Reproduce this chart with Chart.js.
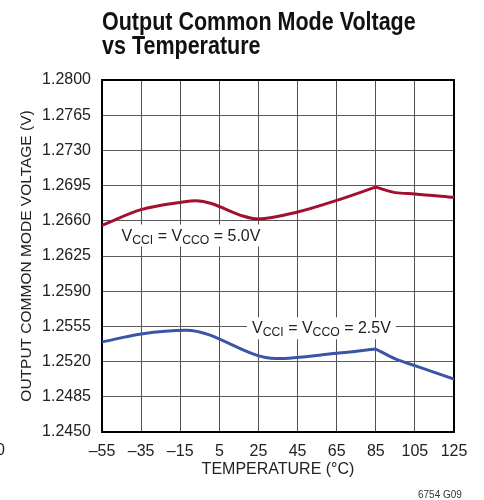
<!DOCTYPE html>
<html>
<head>
<meta charset="utf-8">
<script src="https://cdn.jsdelivr.net/npm/chart.js@4"></script>
<style>
  body { margin: 0; background: #fff; }
  canvas { display: block; }
</style>
</head>
<body>
<canvas id="myChart" width="484" height="500"></canvas>
<script>
const FONT = "'Liberation Sans', Arial, sans-serif";

// temperature ticks (°C) and voltage ticks (V)
const xTicks = [-55, -35, -15, 5, 25, 45, 65, 85, 105, 125];
const yTicks = [1.245, 1.2485, 1.252, 1.2555, 1.259, 1.2625, 1.266, 1.2695, 1.273, 1.2765, 1.28];

// VCCI = VCCO = 5.0V
const temps5 = [-55, -35, -15, -7, 25, 45, 65, 85, 95, 105, 125];
const volts5 = [1.26555, 1.26711, 1.26783, 1.2680, 1.26619, 1.26688, 1.26803, 1.26935, 1.2688, 1.26867, 1.26833];

// VCCI = VCCO = 2.5V
const temps25 = [-55, -35, -12, 34, 65, 85, 95, 105, 125];
const volts25 = [1.25395, 1.25475, 1.25512, 1.2523, 1.25283, 1.25325, 1.25227, 1.2516, 1.25025];

// the curves bend sharply at this temperature
const kneeTemp = 85;

const curveLabels = [
  { x: -45, y: 1.26404, supply: "5.0V" },
  { x: 21.7, y: 1.25481, supply: "2.5V" }
];

const toPoints = (xs, ys) => xs.map((t, i) => ({ x: t, y: ys[i] }));

const curvePart = (xs, ys, color, right) => ({
  data: toPoints(xs, ys).filter(p => (right ? p.x >= kneeTemp : p.x <= kneeTemp)),
  borderColor: color,
  borderWidth: 3,
  pointRadius: 0,
  cubicInterpolationMode: "monotone"
});

const labelPlugin = {
  id: "labels",
  beforeDatasetsDraw(chart) {
    const { ctx, chartArea: a, scales: { x, y } } = chart;
    ctx.save();
    ctx.strokeStyle = "#000";
    ctx.lineWidth = 2;
    ctx.strokeRect(a.left, a.top, a.right - a.left, a.bottom - a.top);
    curveLabels.forEach(l => {
      const parts = [["V", 0], ["CCI", 1], [" = V", 0], ["CCO", 1], [" = " + l.supply, 0]];
      const px = x.getPixelForValue(l.x);
      const py = y.getPixelForValue(l.y);
      const big = "17px " + FONT, small = "13px " + FONT;
      const sx = 0.94;
      let w = 0;
      parts.forEach(p => { ctx.font = p[1] ? small : big; w += ctx.measureText(p[0]).width; });
      ctx.fillStyle = "#fff";
      ctx.fillRect(px - 5, py - 16, w * sx + 10, 22);
      ctx.save();
      ctx.translate(px, py);
      ctx.scale(sx, 1);
      ctx.fillStyle = "#222";
      ctx.textBaseline = "alphabetic";
      ctx.textAlign = "left";
      let cx = 0;
      parts.forEach(p => {
        ctx.font = p[1] ? small : big;
        ctx.fillText(p[0], cx, p[1] ? 3 : 0);
        cx += ctx.measureText(p[0]).width;
      });
      ctx.restore();
    });
    ctx.restore();
  },
  afterDraw(chart) {
    const { ctx, chartArea: a } = chart;
    ctx.save();
    ctx.fillStyle = "#111";
    ctx.textAlign = "left";
    ctx.textBaseline = "alphabetic";
    ctx.save();
    ctx.translate(a.left, 0);
    ctx.scale(0.86, 1);
    ctx.font = "bold 25px " + FONT;
    ctx.fillText("Output Common Mode Voltage", 0, 30);
    ctx.fillText("vs Temperature", 0, 53.5);
    ctx.restore();
    ctx.font = "10px " + FONT;
    ctx.fillStyle = "#333";
    ctx.fillText("6754 G09", 418, 498);
    ctx.font = "16px " + FONT;
    ctx.textBaseline = "middle";
    ctx.fillStyle = "#222";
    ctx.fillText("0", -4, 451);
    ctx.restore();
  }
};

new Chart("myChart", {
  type: "line",
  data: {
    datasets: [
      curvePart(temps5, volts5, "#a3102e", false),
      curvePart(temps5, volts5, "#a3102e", true),
      curvePart(temps25, volts25, "#3a55a6", false),
      curvePart(temps25, volts25, "#3a55a6", true)
    ]
  },
  options: {
    responsive: false,
    animation: false,
    layout: { padding: { top: 80, right: 30, left: 0, bottom: 0 } },
    plugins: { legend: { display: false }, tooltip: { enabled: false } },
    scales: {
      x: {
        type: "linear",
        min: -55,
        max: 125,
        afterBuildTicks: s => { s.ticks = xTicks.map(v => ({ value: v })); },
        afterFit: s => { s.height = 68; },
        grid: { color: "#505050", drawTicks: false },
        border: { display: false },
        ticks: {
          padding: 10,
          color: "#222",
          font: { family: FONT, size: 16 },
          callback: v => (v < 0 ? "\u2013" + Math.abs(v) : String(v))
        },
        title: {
          display: true,
          text: "TEMPERATURE (°C)",
          color: "#222",
          font: { family: FONT, size: 16 },
          padding: { bottom: 21 }
        }
      },
      y: {
        min: 1.245,
        max: 1.28,
        afterBuildTicks: s => { s.ticks = yTicks.map(v => ({ value: v })); },
        afterFit: s => { s.width = 102; },
        grid: { color: "#5a5a5a", drawTicks: false },
        border: { display: false },
        ticks: {
          padding: 11,
          color: "#222",
          font: { family: FONT, size: 16 },
          callback: v => v.toFixed(4)
        },
        title: {
          display: true,
          text: "OUTPUT COMMON MODE VOLTAGE (V)",
          color: "#222",
          font: { family: FONT, size: 15.5 },
          padding: { top: 17 }
        }
      }
    }
  },
  plugins: [labelPlugin]
});
</script>
</body>
</html>
